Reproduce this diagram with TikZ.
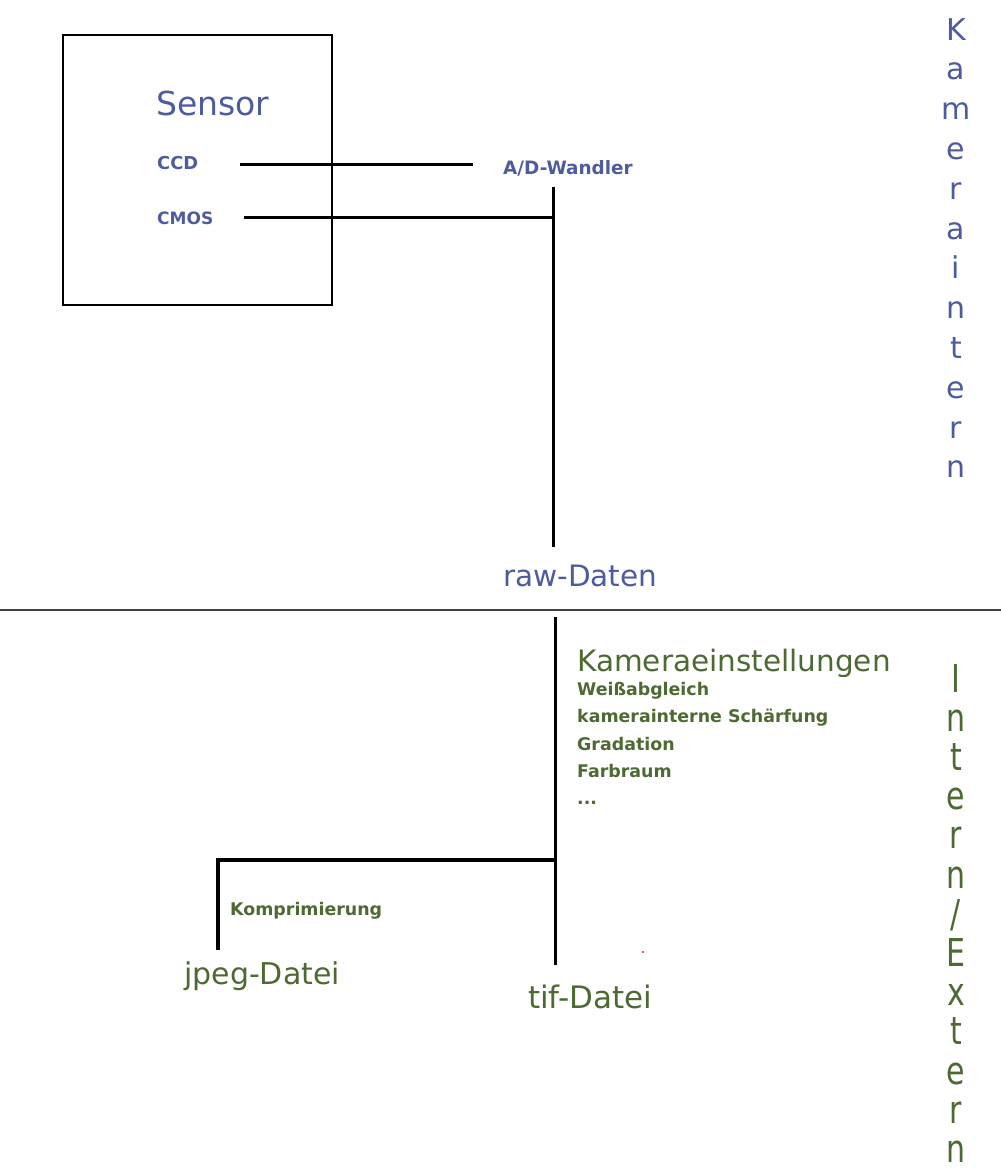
\documentclass[tikz,border=0pt]{standalone}
\usepackage{fontspec}
\setmainfont{DejaVu Sans}
\definecolor{tblue}{HTML}{4D5C9E}
\definecolor{tgreen}{HTML}{4D6A32}
\begin{document}
\begin{tikzpicture}[x=1pt,y=-1pt,
  lbl/.style={inner sep=0pt,anchor=base west},
  small/.style={lbl,font=\fontsize{17.4}{20}\selectfont\bfseries},
  big/.style={lbl,font=\fontsize{30}{34}\selectfont},
  wire/.style={line width=3.6pt},
  trunk/.style={line width=3pt},
  vletter/.style={inner sep=0pt,anchor=base,font=\fontsize{30}{32}\selectfont}]
\useasboundingbox[fill=white] (0,0) rectangle (1001,1170);
% sensor box
\draw[line width=1.8pt] (63,35) rectangle (332,305);
\node[lbl,text=tblue,font=\fontsize{33}{36}\selectfont] (sensor) at (156,115) {Sensor};
\node[small,text=tblue,font=\fontsize{17.8}{20}\selectfont\bfseries] (ccd) at (157,169) {CCD};
\node[small,text=tblue,font=\fontsize{17}{20}\selectfont\bfseries] (cmos) at (157,224) {CMOS};
\node[small,text=tblue,font=\fontsize{18.4}{20}\selectfont\bfseries] (ad) at (503,174) {A/D-Wandler};
\node[big,text=tblue,font=\fontsize{29.5}{34}\selectfont] (raw) at (503,586) {raw-Daten};
% connectors upper
\coordinate (ccdA) at (240,164.5);
\coordinate (ccdB) at (473,164.5);
\coordinate (cmosA) at (244,217.5);
\coordinate (vtop) at (553,187);
\coordinate (cmosJ) at (553,217.5);
\coordinate (vbot) at (553,547);
\draw[wire] (ccdA) -- (ccdB);
\draw[wire] (cmosA) -- (cmosJ);
\draw[trunk] (vtop) -- (vbot);
% separator
\coordinate (sepL) at (0,610);
\coordinate (sepR) at (1001,610);
\draw[line width=2pt,black!75] (sepL) -- (sepR);
% lower part
\node[big,text=tgreen,font=\fontsize{29.5}{34}\selectfont] (kam) at (577,671) {Kameraeinstellungen};
\node[small,text=tgreen] (w1) at (577,695) {Weißabgleich};
\node[small,text=tgreen] (w2) at (577,722.5) {kamerainterne Schärfung};
\node[small,text=tgreen] (w3) at (577,750) {Gradation};
\node[small,text=tgreen] (w4) at (577,777) {Farbraum};
\node[small,text=tgreen] (w5) at (577,804) {...};
\node[small,text=tgreen] (komp) at (230,915) {Komprimierung};
\node[big,text=tgreen] (jpeg) at (184,984) {jpeg-Datei};
\node[big,text=tgreen,font=\fontsize{31}{34}\selectfont] (tif) at (528,1008) {tif-Datei};
\coordinate (ltop) at (555,617);
\coordinate (lJ) at (555,860);
\coordinate (lbot) at (555,965);
\coordinate (jL) at (218,860);
\coordinate (jB) at (218,950);
\draw[trunk] (ltop) -- (lbot);
\draw[wire,line join=miter] (lJ) -- (jL) -- (jB);
\fill[red!70] (642,951) rectangle (644,953);
% vertical words
\foreach \c [count=\i from 0] in {K,a,m,e,r,a,i,n,t,e,r,n}
  \node[vletter,text=tblue] (ki\i) at (956,40+39.8*\i) {\c};
\foreach \c [count=\i from 0] in {I,n,t,e,r,n,/,E,x,t,e,r,n}
  \node[vletter,text=tgreen] (ie\i) at (956,692+39.2*\i) {\scalebox{1}[1.28]{\c}};
\end{tikzpicture}
\end{document}
